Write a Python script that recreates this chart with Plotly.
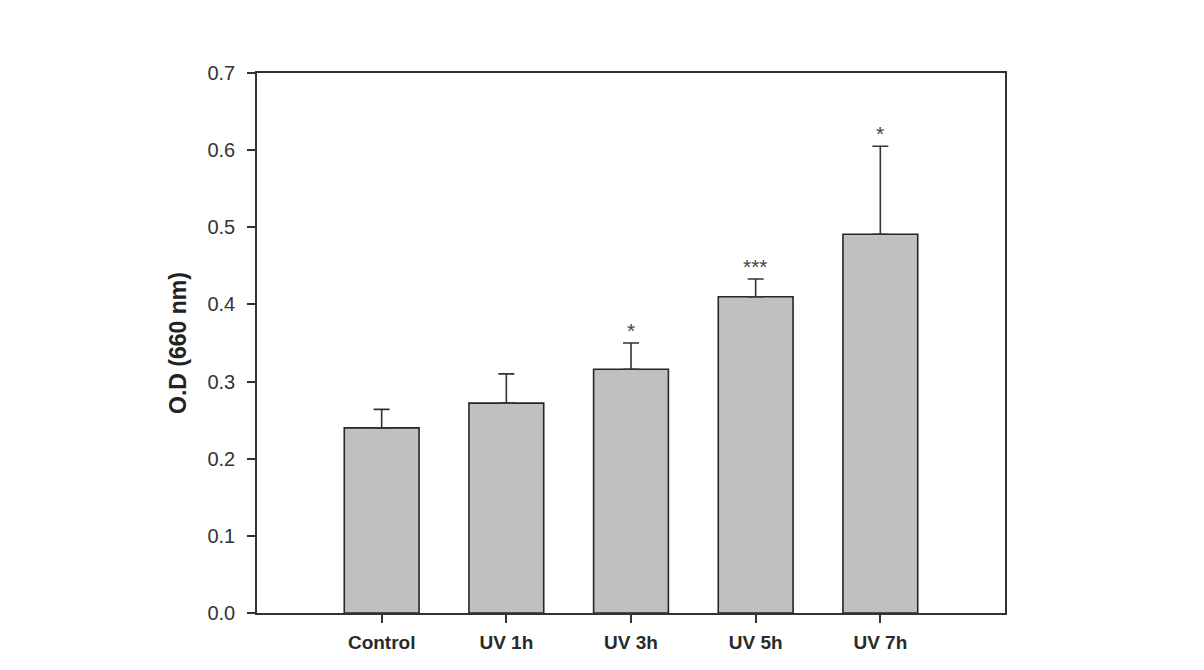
import plotly.graph_objects as go

categories = ["Control", "UV 1h", "UV 3h", "UV 5h", "UV 7h"]
means = [0.240, 0.272, 0.316, 0.410, 0.491]
errors = [0.024, 0.038, 0.034, 0.023, 0.114]
stars = ["", "", "*", "***", "*"]
y_ticks = [0.0, 0.1, 0.2, 0.3, 0.4, 0.5, 0.6, 0.7]

fig = go.Figure()
fig.add_trace(go.Bar(
    x=list(range(len(categories))),
    y=means,
    width=0.6,
    marker=dict(color="#c0c0c0", line=dict(color="#262626", width=1.6)),
    error_y=dict(type="data", array=errors, symmetric=False, arrayminus=[0]*len(errors),
                 color="#333333", thickness=1.6, width=8),
    showlegend=False,
))

for i, s in enumerate(stars):
    if s:
        fig.add_annotation(x=i, y=means[i] + errors[i], text=s, showarrow=False,
                           yanchor="bottom", yshift=-1,
                           font=dict(family="Liberation Sans, Arial", size=21, color="#444444"))

fig.update_layout(
    width=1204, height=670,
    margin=dict(l=257, r=199, t=73, b=57),
    paper_bgcolor="white", plot_bgcolor="white",
    font=dict(family="Liberation Sans, Arial", color="#333333"),
    xaxis=dict(
        range=[-1, 5], tickmode="array", tickvals=list(range(len(categories))),
        ticktext=["<b>%s</b>" % c for c in categories],
        ticks="outside", ticklen=8, tickwidth=1.5, tickcolor="#333333",
        showline=True, linecolor="#333333", linewidth=1.6, mirror=True,
        showgrid=False, zeroline=False,
        tickfont=dict(size=19, color="#2a2a2a"), ticklabelstandoff=3,
    ),
    yaxis=dict(
        range=[0, 0.7], tickmode="array", tickvals=y_ticks,
        ticktext=["%.1f" % v for v in y_ticks],
        ticks="outside", ticklen=8, tickwidth=1.5, tickcolor="#333333",
        showline=True, linecolor="#333333", linewidth=1.6, mirror=True,
        showgrid=False, zeroline=False,
        tickfont=dict(size=20, color="#333333"), ticklabelstandoff=8,
        title=dict(text="<b>O.D (660 nm)</b>", font=dict(size=23, color="#222222"), standoff=14),
    ),
)

fig.write_html("out.html")
